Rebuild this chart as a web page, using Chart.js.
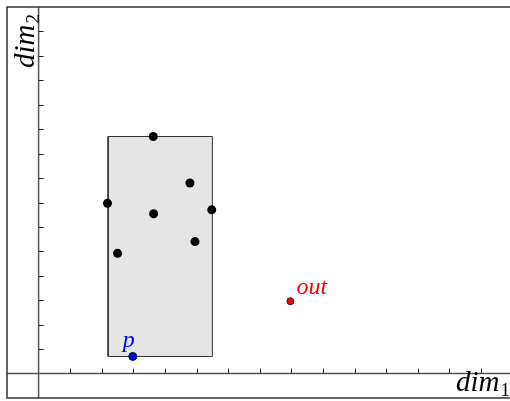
<!DOCTYPE html>
<html>
<head>
<meta charset="utf-8">
<script src="https://cdn.jsdelivr.net/npm/chart.js@4.4.1/dist/chart.umd.min.js"></script>
<style>
  html, body { margin: 0; padding: 0; background: #fff; overflow: hidden; }
  canvas { display: block; }
</style>
</head>
<body>
<canvas id="grafico" width="510" height="401"></canvas>
<script>
// caixa (bounding box) dos pontos
const caixaX = [2.2, 5.5];
const caixaY = [0.7, 9.7];

// pontos dentro da caixa
const pontosX = [3.63, 4.79, 2.18, 3.64, 5.48, 4.95, 2.5];
const pontosY = [9.7, 7.8, 6.97, 6.54, 6.7, 5.4, 4.92];

// ponto p e ponto fora (out)
const pX = [2.98];
const pY = [0.7];
const outX = [7.97];
const outY = [2.96];

// marcas nos eixos
const ticksX = [1, 2, 3, 4, 5, 6, 7, 8, 9, 10, 11, 12, 13, 14];
const ticksY = [1, 2, 3, 4, 5, 6, 7, 8, 9, 10, 11, 12, 13, 14];

const nomeX = ['dim', '1'];
const nomeY = ['dim', '2'];

const xy = (xs, ys) => xs.map((v, i) => ({ x: v, y: ys[i] }));

// contorno fechado da caixa
const contorno = [
  { x: caixaX[0], y: caixaY[0] },
  { x: caixaX[1], y: caixaY[0] },
  { x: caixaX[1], y: caixaY[1] },
  { x: caixaX[0], y: caixaY[1] },
  { x: caixaX[0], y: caixaY[0] },
];

const fonte = 'italic 29px "Liberation Serif", serif';
const fonteSub = '19px "Liberation Serif", serif';

// desenha moldura, eixos em zero, marcas e textos
const eixos = {
  id: 'eixos',
  beforeDatasetsDraw(chart) {
    const { ctx, chartArea: a, scales: { x, y } } = chart;
    const x0 = x.getPixelForValue(0);
    const y0 = y.getPixelForValue(0);
    ctx.save();
    ctx.strokeStyle = '#555';
    ctx.lineWidth = 1.5;
    ctx.beginPath();
    ctx.moveTo(a.left, y0); ctx.lineTo(a.right, y0);
    ctx.moveTo(x0, a.top); ctx.lineTo(x0, a.bottom);
    ctx.stroke();

    ctx.strokeStyle = '#222';
    ctx.lineWidth = 1;
    ctx.beginPath();
    ticksX.forEach(v => {
      const px = Math.round(x.getPixelForValue(v)) + 0.5;
      ctx.moveTo(px, y0); ctx.lineTo(px, y0 - 5);
    });
    ticksY.forEach(v => {
      const py = Math.round(y.getPixelForValue(v)) + 0.5;
      ctx.moveTo(x0, py); ctx.lineTo(x0 + 5, py);
    });
    ctx.stroke();

    // moldura: sem o lado direito, que fica fora do canvas
    ctx.strokeStyle = '#333';
    ctx.lineWidth = 1.5;
    ctx.beginPath();
    ctx.moveTo(a.right + 2, a.top);
    ctx.lineTo(a.left, a.top);
    ctx.lineTo(a.left, a.bottom);
    ctx.lineTo(a.right + 2, a.bottom);
    ctx.stroke();
    ctx.restore();
  },
  afterDatasetsDraw(chart) {
    const { ctx, chartArea: a } = chart;
    ctx.save();
    ctx.fillStyle = '#000';
    ctx.textBaseline = 'alphabetic';

    // dim1 no canto inferior direito
    ctx.font = fonte;
    const w1 = ctx.measureText(nomeX[0]).width;
    ctx.font = fonteSub;
    const w2 = ctx.measureText(nomeX[1]).width;
    const bx = a.right - 1 - w1 - w2;
    ctx.font = fonte;
    ctx.fillText(nomeX[0], bx, a.bottom - 7);
    ctx.font = fonteSub;
    ctx.fillText(nomeX[1], bx + w1 + 1, a.bottom - 2);

    // dim2 girado no canto superior esquerdo
    ctx.translate(a.left + 27, a.top + 61);
    ctx.rotate(-Math.PI / 2);
    ctx.font = fonte;
    ctx.fillText(nomeY[0], 0, 0);
    const w3 = ctx.measureText(nomeY[0]).width;
    ctx.font = fonteSub;
    ctx.fillText(nomeY[1], w3 + 1, 5);
    ctx.restore();

    // rótulos dos pontos p e out
    const mp = chart.getDatasetMeta(2).data[0];
    const mo = chart.getDatasetMeta(3).data[0];
    ctx.save();
    ctx.font = 'italic 24px "Liberation Serif", serif';
    ctx.fillStyle = '#0000ff';
    ctx.fillText('p', mp.x - 10, mp.y - 9);
    ctx.fillStyle = '#ff0000';
    ctx.fillText('out', mo.x + 6, mo.y - 7);
    ctx.restore();
  }
};

const config = {
  type: 'scatter',
  data: {
    datasets: [
      {
        data: xy(pontosX, pontosY),
        backgroundColor: '#000',
        borderColor: '#000',
        borderWidth: 0,
        pointRadius: 4.5,
        order: 1,
      },
      {
        data: contorno,
        showLine: true,
        fill: 'shape',
        backgroundColor: '#e5e5e5',
        borderColor: '#333',
        borderWidth: 1,
        pointRadius: 0,
        tension: 0,
        order: 5,
      },
      {
        data: xy(pX, pY),
        backgroundColor: '#0000ff',
        borderColor: '#111',
        borderWidth: 1,
        pointRadius: 4,
        order: 0,
      },
      {
        data: xy(outX, outY),
        backgroundColor: '#ff0000',
        borderColor: '#222',
        borderWidth: 1,
        pointRadius: 3.5,
        order: 0,
      },
    ]
  },
  options: {
    responsive: false,
    animation: false,
    layout: { autoPadding: false, padding: { left: 7, top: 7, right: 0, bottom: 3 } },
    plugins: { legend: { display: false }, tooltip: { enabled: false } },
    scales: {
      x: { type: 'linear', min: -1, max: 14.92, display: false },
      y: { type: 'linear', min: -1, max: 15, display: false },
    }
  },
  plugins: [eixos]
};

const grafico = new Chart(document.getElementById('grafico'), config);
</script>
</body>
</html>
